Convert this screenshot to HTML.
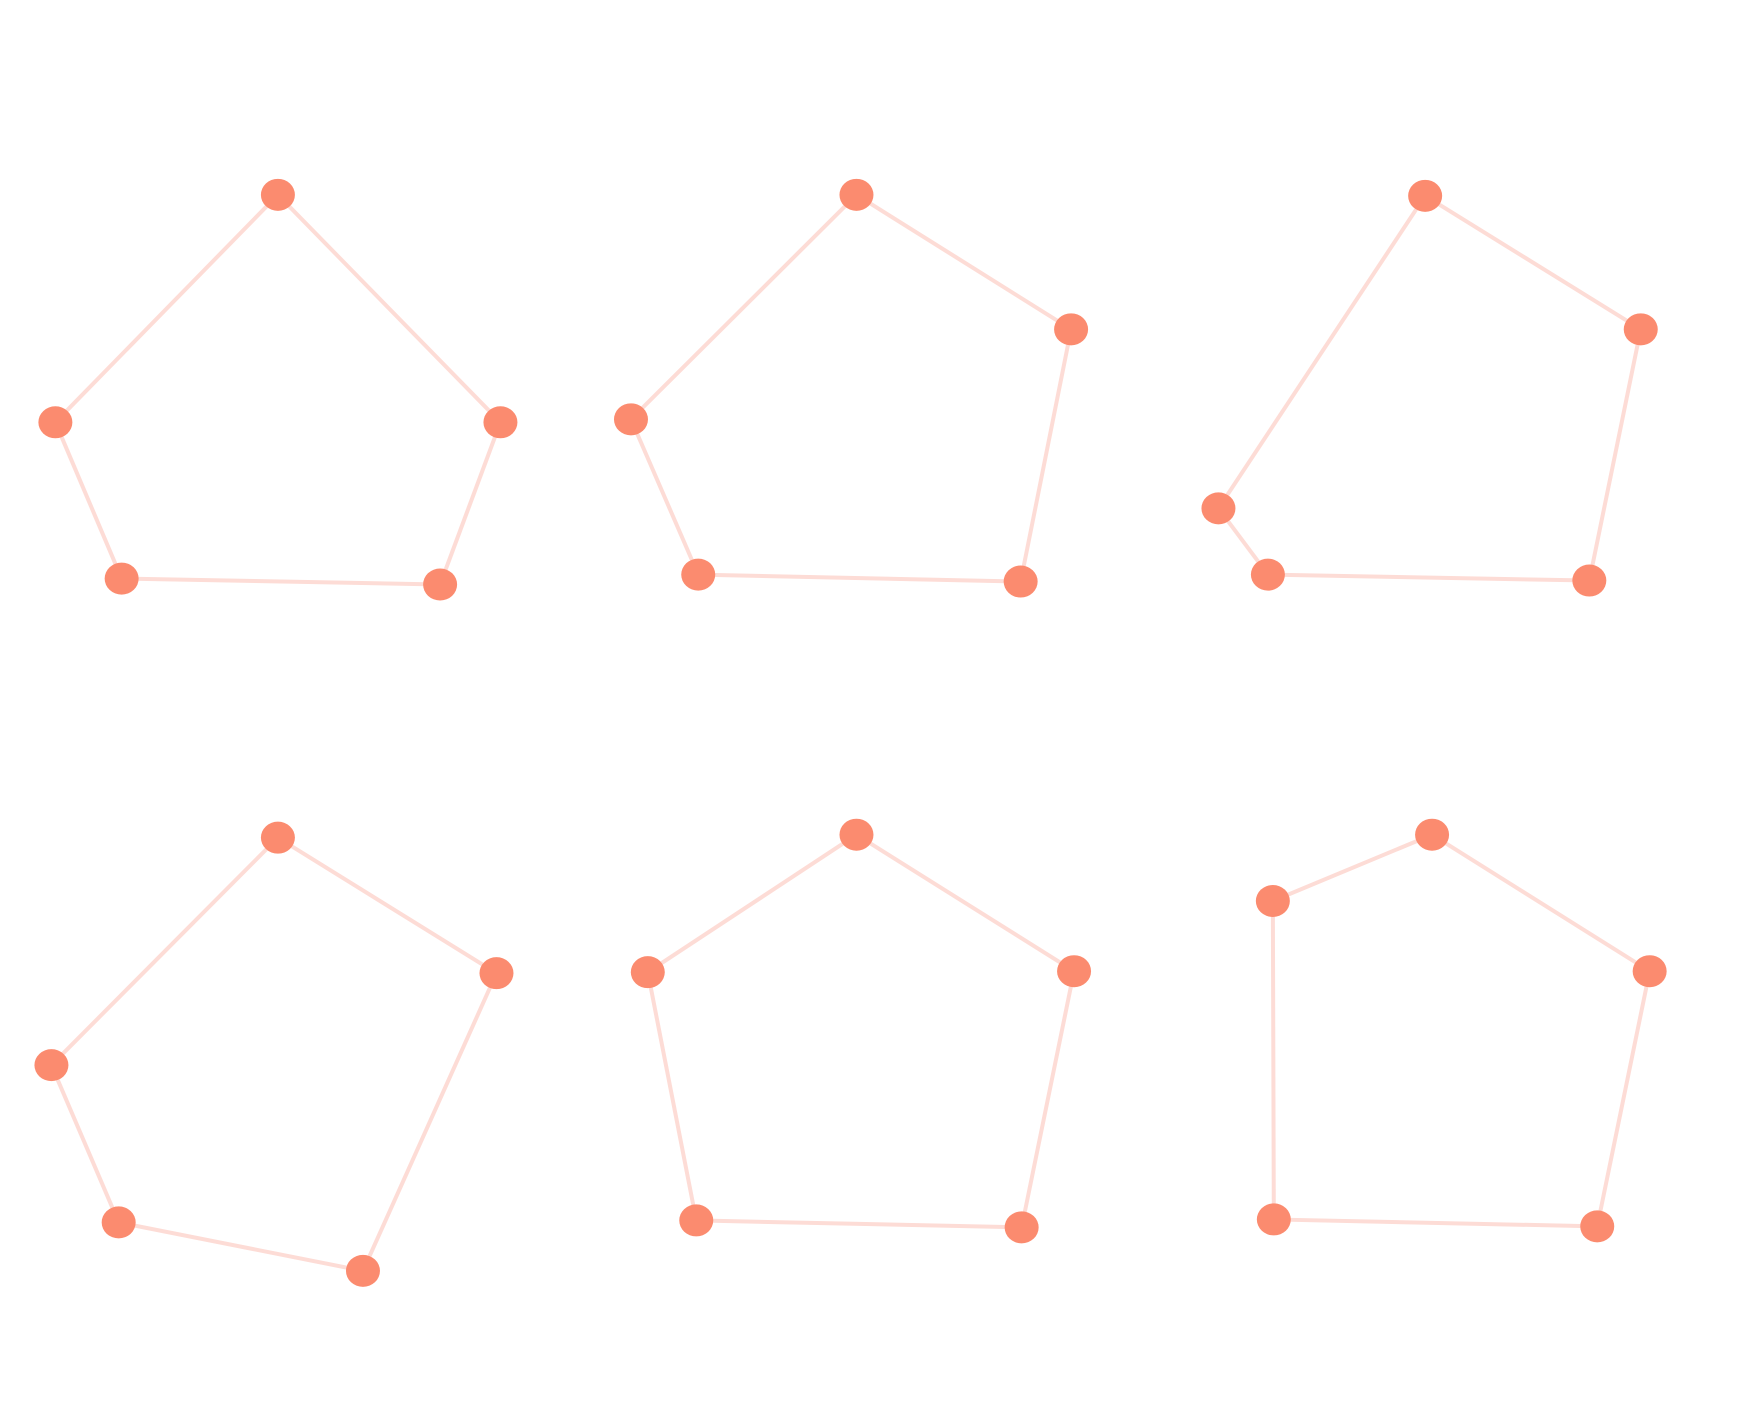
<!DOCTYPE html>
<html><head><meta charset="utf-8">
<style>html,body{margin:0;padding:0;background:#fff;}svg{display:block;}</style>
</head><body>
<svg id="chart" width="1738" height="1410" viewBox="0 0 1738 1410"></svg>
<script>
const panelNames = ["graph-1","graph-2","graph-3","graph-4","graph-5","graph-6"];
const nodeX = [
  [281,506,445,123,56],
  [866,1083,1032,706,638],
  [1441,1659,1607,1282,1232],
  [281,502,367,120,52],
  [866,1086,1033,704,655],
  [1448,1668,1615,1288,1287]
];
const nodeY = [
  [197,427,591,585,427],
  [197,333,588,581,424],
  [198,333,587,581,514],
  [847,984,1285,1236,1077],
  [844,982,1241,1234,983],
  [844,982,1240,1233,911]
];
const xScale = v => v * 0.989;
const yScale = v => v * 0.989;
const svg = document.getElementById('chart');
const NS = 'http://www.w3.org/2000/svg';
panelNames.forEach((pn, p) => {
  const g = document.createElementNS(NS, 'g');
  
  
  svg.appendChild(g);
  const xs = nodeX[p], ys = nodeY[p];
  for (let i = 0; i < xs.length; i++) {
    const j = (i + 1) % xs.length;
    const l = document.createElementNS(NS, 'line');
    l.setAttribute('x1', xScale(xs[i])); l.setAttribute('y1', yScale(ys[i]));
    l.setAttribute('x2', xScale(xs[j])); l.setAttribute('y2', yScale(ys[j]));
    l.setAttribute('stroke', '#fddcd6'); l.setAttribute('stroke-width', '4');
    
    
    g.appendChild(l);
  }
  for (let i = 0; i < xs.length; i++) {
    const c = document.createElementNS(NS, 'ellipse');
    c.setAttribute('cx', xScale(xs[i])); c.setAttribute('cy', yScale(ys[i]));
    c.setAttribute('rx', 17); c.setAttribute('ry', 16);
    c.setAttribute('fill', '#fb8b6f');
    
    
    g.appendChild(c);
  }
});
</script>
</body></html>
